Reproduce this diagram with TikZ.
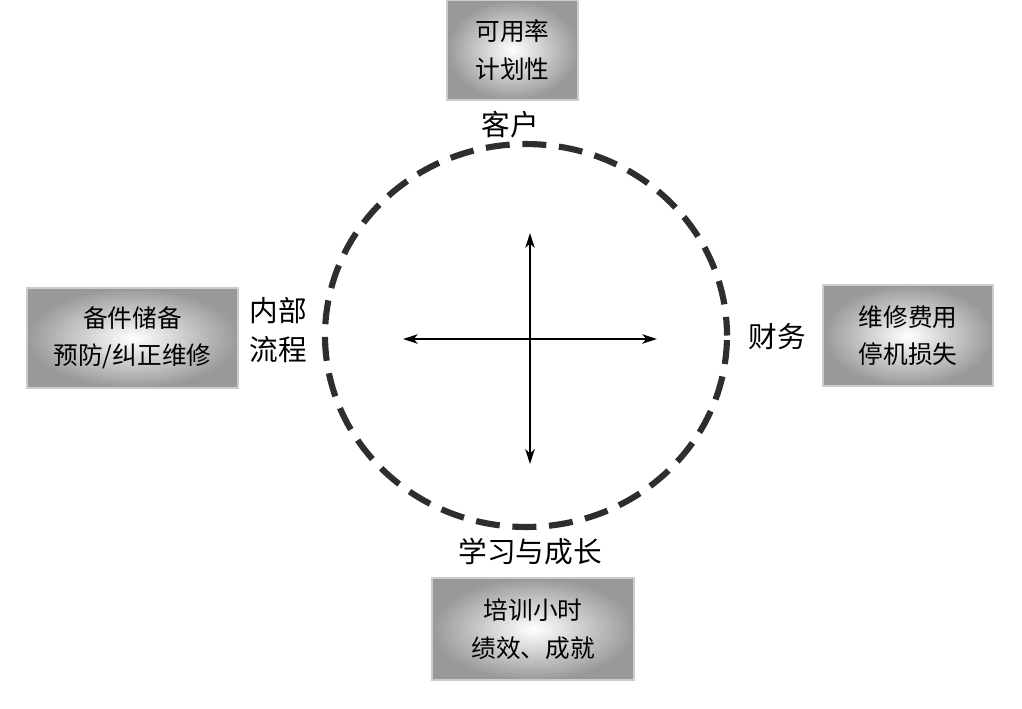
\documentclass[tikz,border=0pt]{standalone}
\usepackage{fontspec}
\setmainfont{Noto Sans CJK SC}
\usetikzlibrary{arrows.meta}
\tikzset{
  box/.style={shade, inner color=white, outer color=black!40, draw=black!20, line width=0.8pt,
    align=center, inner sep=0pt, font=\fontsize{18.5}{28}\selectfont},
  lbl/.style={align=center, inner sep=0pt, font=\fontsize{21.5}{29}\selectfont},
  axis/.style={line width=1.4pt, {Stealth[length=11pt,width=7pt,inset=3pt]}-{Stealth[length=11pt,width=7pt,inset=3pt]}},
  ring/.style={line width=4.6pt, draw=black!82, dash pattern=on 18pt off 9.5pt, dash phase=4pt}
}
\begin{document}
\begin{tikzpicture}[x=0.75pt,y=-0.75pt]
\useasboundingbox (0,0) rectangle (1022,708);
\draw[ring] (526,335.5) ellipse [x radius=150.75pt, y radius=143.6pt];
% boxes
\node[box, minimum width=98.25pt, minimum height=75pt] (cust) at (512.5,50) {可用率\\计划性};
\node[box, minimum width=158.25pt, minimum height=75pt] (proc) at (132.5,338) {备件储备\\预防/纠正维修};
\node[box, minimum width=127.5pt, minimum height=75.75pt] (fin) at (908,335.5) {维修费用\\停机损失};
\node[box, minimum width=151.5pt, minimum height=76.5pt] (learn) at (533,629) {培训小时\\绩效、成就};
% labels
\node[lbl] (lcust) at (510,125) {客户};
\node[lbl] (lproc) at (278,330) {内部\\流程};
\node[lbl] (lfin) at (777,337) {财务};
\node[lbl] (llearn) at (530,552) {学习与成长};
% axes
\coordinate (top) at (530,233);
\coordinate (bot) at (530,464);
\coordinate (lft) at (403,339);
\coordinate (rgt) at (657,339);
\draw[axis] (top) -- (bot);
\draw[axis] (lft) -- (rgt);
\end{tikzpicture}
\end{document}
